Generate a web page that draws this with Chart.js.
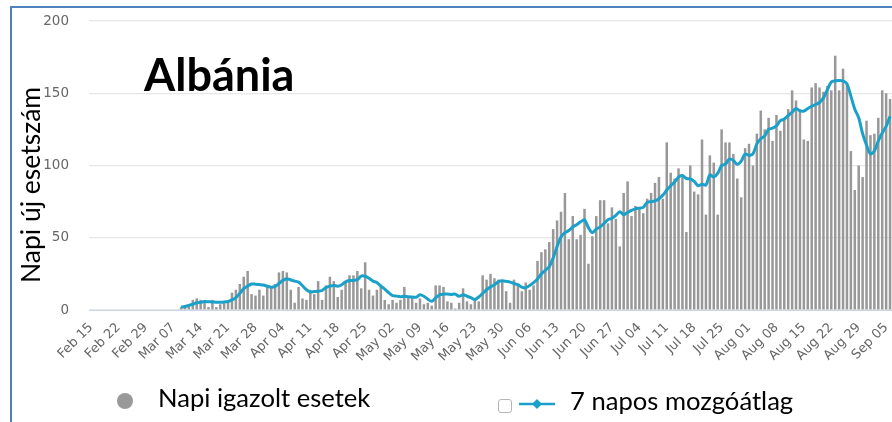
<!DOCTYPE html>
<html>
<head>
<meta charset="utf-8">
<script src="https://cdn.jsdelivr.net/npm/chart.js@4/dist/chart.umd.min.js"></script>
<style>
html,body{margin:0;padding:0;background:#fff;width:892px;height:422px;overflow:hidden;}
#wrap{position:relative;width:892px;height:422px;overflow:hidden;background:#fff;}
#c{position:absolute;left:0;top:0;}
.frame{position:absolute;left:10px;top:6px;width:1000px;height:600px;border-left:2px solid #4f81bd;border-top:2px solid #4f81bd;pointer-events:none;}
.title{position:absolute;left:144px;top:52px;font-family:Lato,sans-serif;font-weight:bold;font-size:45px;line-height:1;color:#000;white-space:nowrap;}
.ytitle{position:absolute;left:-90px;top:171px;width:240px;text-align:center;font-family:Lato,sans-serif;font-size:26.5px;line-height:28px;color:#000;transform:rotate(-90deg);transform-origin:50% 50%;white-space:nowrap;}
.lg{position:absolute;font-family:Lato,sans-serif;font-size:25.6px;line-height:1;color:#000;white-space:nowrap;}
.dot{position:absolute;left:117px;top:393px;width:16px;height:16px;border-radius:50%;background:#999;}
.box{position:absolute;left:498px;top:399px;width:12px;height:12px;border:1px solid #b5b5b5;border-radius:3px;background:#fff;}
.mk{position:absolute;left:517px;top:396px;}
</style>
</head>
<body>
<div id="wrap">
  <canvas id="c" width="892" height="422"></canvas>
  <div class="title">Albánia</div>
  <div class="ytitle">Napi új esetszám</div>
  <div class="dot"></div>
  <div class="lg" style="left:158px;top:385px;">Napi igazolt esetek</div>
  <div class="box"></div>
  <svg class="mk" width="40" height="16"><line x1="2" y1="8" x2="38" y2="8" stroke="#1ba1c9" stroke-width="2.5"/><path d="M20 3 L25 8 L20 13 L15 8 Z" fill="#1ba1c9"/></svg>
  <div class="lg" style="left:570px;top:388px;">7 napos mozgóátlag</div>
  <div class="frame"></div>
</div>
<script>
// Weekly tick labels shown on the x axis
const tickLabels = ['Feb 15','Feb 22','Feb 29','Mar 07','Mar 14','Mar 21','Mar 28','Apr 04','Apr 11','Apr 18','Apr 25','May 02','May 09','May 16','May 23','May 30','Jun 06','Jun 13','Jun 20','Jun 27','Jul 04','Jul 11','Jul 18','Jul 25','Aug 01','Aug 08','Aug 15','Aug 22','Aug 29','Sep 05'];
const monthNames = ['Jan','Feb','Mar','Apr','May','Jun','Jul','Aug','Sep'];
const firstDay = '2020-02-15';
const lastDay = '2020-09-06';
const firstCaseDay = '2020-03-09';

// Daily confirmed cases, from Mar 09
const casesMar = [2,2,4,7,8,7,5,2,7,2,4,5,6,12,14,18,23,27,11,10,14,10,17];
const casesApr = [16,18,26,27,26,14,5,16,8,7,14,11,20,7,17,23,20,9,14,20,24,24,27,15,33,14,10,14,16,7];
const casesMay = [4,7,5,7,16,9,9,5,8,4,5,3,17,17,16,6,5,1,5,15,6,4,8,6,24,21,25,22,21,20,13];
const casesJun = [5,21,17,13,19,14,17,34,40,42,47,56,62,68,81,49,65,49,52,70,32,51,65,76,76,60,71,63,44,81];
const casesJul = [89,65,72,71,67,77,81,88,92,77,116,95,91,98,94,54,100,82,80,118,66,107,102,66,125,116,116,108,91,78,112];
const casesAug = [115,100,122,138,125,133,117,135,124,132,139,152,145,139,118,117,154,157,154,151,155,152,176,152,167,156,110,83,100,92,131];
const casesSep = [121,122,133,152,150,146];

// 7-day moving average line, from Mar 09
const avgMar = [2,2.4,3.2,4,5,5.3,5.8,5.7,5.6,5.3,5.4,5.6,5.9,7,8.6,11.5,14.8,16.5,18,17.9,17.6,17.3,16.5];
const avgApr = [15.8,16.3,18.3,20.5,21.7,20.8,20,19.3,16.8,14,12.5,12.8,13,13.5,15.5,16.5,17,16.5,17.5,19.5,20.4,20.4,21,23.5,23.4,22,20,19,16.5,14.5];
const avgMay = [12,10,9.6,9.2,9.6,9.2,9,8.8,10.5,9.5,7.5,6,8.4,10.5,11,11,10.8,11,9.5,10.5,9.5,8.5,7.3,9,11.5,14,16,17.5,19.5,20.2,19.8];
const avgJun = [19.3,18.3,17.5,15.8,15.3,17,19,21.5,25,27.5,30,36,44,50.5,53.5,55,57.5,59,61,62.5,57,53.5,56,57.5,60,62.5,63.5,65.5,68,66];
const avgJul = [67.5,69,70,70.5,71,74.5,75,75.5,77,79.5,83,86,88.5,92,93,91,90.8,89,86,87,86.5,93.5,92,94.5,100,101,104.5,103.5,100.8,103,108];
const avgAug = [107,108,115,118.5,120.5,125,125.8,127.5,131,132.2,134.5,137,139.5,137.8,137.7,139.5,141,142.2,143.6,146.8,152.5,157.8,158.6,158.8,158.5,156.5,148,139,133,122,114];
const avgSep = [108,110,117,122.5,127,134];

// Build day categories
function fmt(d){ return monthNames[d.getUTCMonth()] + ' ' + String(d.getUTCDate()).padStart(2,'0'); }
const categories = [];
let leading = 0;
for (let d = new Date(firstDay + 'T00:00:00Z'); d <= new Date(lastDay + 'T00:00:00Z'); d.setUTCDate(d.getUTCDate()+1)) {
  categories.push(fmt(d));
  if (d < new Date(firstCaseDay + 'T00:00:00Z')) leading++;
}
const pad = new Array(leading).fill(null);
const dailyCases = pad.concat(casesMar, casesApr, casesMay, casesJun, casesJul, casesAug, casesSep);
const movingAvg = pad.concat(avgMar, avgApr, avgMay, avgJun, avgJul, avgAug, avgSep);
const tickSet = new Set(tickLabels);

new Chart(document.getElementById('c'), {
  type: 'bar',
  data: {
    labels: categories,
    datasets: [
      {
        type: 'line',
        label: '7 napos mozgóátlag',
        data: movingAvg,
        borderColor: '#1ba1c9',
        borderWidth: 3,
        pointRadius: 0,
        tension: 0.3,
        fill: false,
        order: 0
      },
      {
        type: 'bar',
        label: 'Napi igazolt esetek',
        data: dailyCases,
        backgroundColor: '#989898',
        borderWidth: 0,
        barPercentage: 0.64,
        categoryPercentage: 1,
        order: 1
      }
    ]
  },
  options: {
    responsive: false,
    animation: false,
    layout: { padding: { left: 30, right: 0, top: 21, bottom: 52 } },
    plugins: { legend: { display: false }, tooltip: { enabled: false } },
    scales: {
      x: {
        offset: true,
        grid: { display: false, drawTicks: false },
        border: { display: true, color: '#ccd6eb', width: 1 },
        ticks: {
          autoSkip: false,
          maxRotation: 45,
          minRotation: 45,
          padding: 10,
          color: '#666',
          font: { family: 'DejaVu Sans', size: 13 },
          callback: function(v) { const l = this.getLabelForValue(v); return tickSet.has(l) ? l : null; }
        },
        afterFit: function(s) { s.height = 60; s.paddingLeft = 0; s.paddingRight = 0; }
      },
      y: {
        min: 0,
        max: 200,
        ticks: { stepSize: 50, padding: 20, color: '#666', font: { family: 'DejaVu Sans', size: 13.5 } },
        grid: { color: '#e6e6e6', drawTicks: false, lineWidth: 1.2 },
        border: { display: false },
        afterFit: function(s) { s.width = 59; s.paddingTop = 0; s.paddingBottom = 0; }
      }
    }
  }
});
</script>
</body>
</html>
